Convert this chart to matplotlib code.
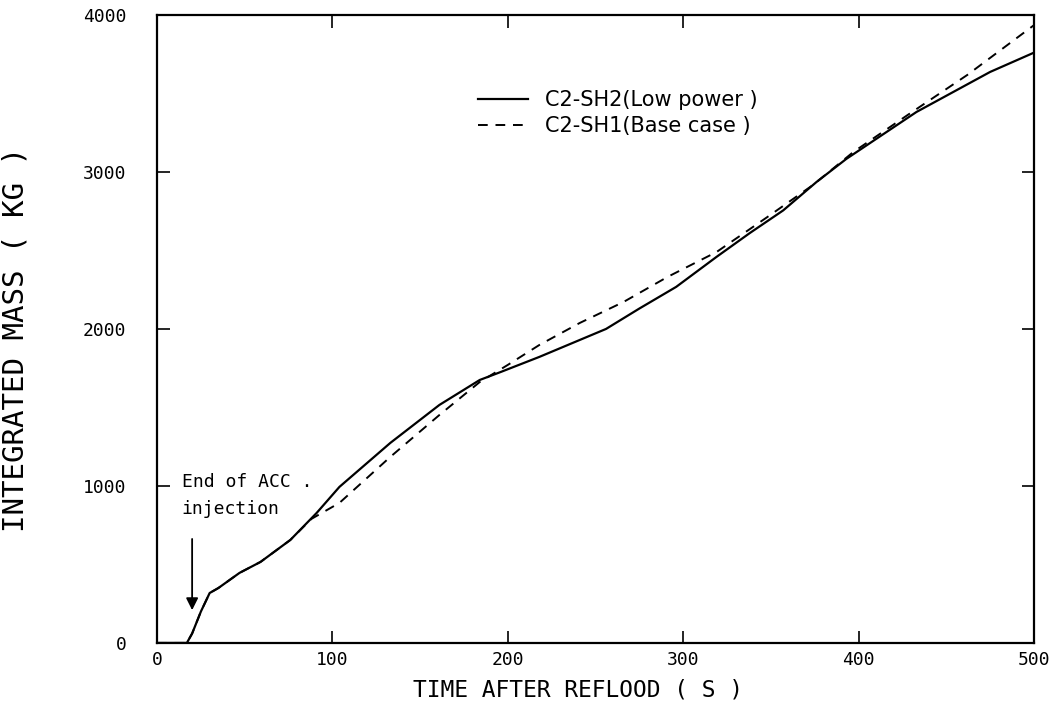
import matplotlib
matplotlib.use("Agg")
import matplotlib.pyplot as plt

# integrated mass vs time after reflood
t_low = [0, 17, 20, 25, 30, 35, 47, 59, 76, 91, 104, 133, 161, 184, 196, 218, 237,
         256, 275, 296, 319, 338, 357, 376, 393, 433, 475, 500]
m_low = [0, 0, 60, 200, 318, 350, 446, 516, 656, 828, 994, 1274, 1516, 1675, 1726,
         1822, 1911, 2000, 2130, 2268, 2459, 2611, 2755, 2936, 3083, 3382, 3637, 3760]

t_base = [0, 17, 20, 25, 30, 35, 47, 59, 76, 88, 104, 133, 161, 184, 200, 218, 241,
          266, 291, 319, 348, 374, 397, 428, 462, 500]
m_base = [0, 0, 60, 200, 318, 350, 446, 516, 656, 790, 892, 1185, 1452, 1662, 1771,
          1898, 2038, 2172, 2331, 2490, 2713, 2917, 3127, 3363, 3618, 3935]

mono = "DejaVu Sans Mono"

fig = plt.figure(figsize=(10.54, 7.12), dpi=100)
ax = fig.add_axes([0.149, 0.097, 0.832, 0.882])

ax.plot(t_low, m_low, color="black", linewidth=1.6, label="C2-SH2(Low power )")
ax.plot(t_base, m_base, color="black", linewidth=1.4, linestyle=(0, (5, 4)),
        label="C2-SH1(Base case )")

ax.set_xlim(0, 500)
ax.set_ylim(0, 4000)
ax.set_xticks([0, 100, 200, 300, 400, 500])
ax.set_yticks([0, 1000, 2000, 3000, 4000])

ax.tick_params(direction="in", length=9, width=1.2, top=True, right=True)
ax.tick_params(axis="x", pad=6, labelsize=13)
ax.tick_params(axis="y", pad=22, labelsize=13)
for lab in ax.get_xticklabels() + ax.get_yticklabels():
    lab.set_family(mono)
for s in ax.spines.values():
    s.set_linewidth(1.6)

ax.set_xlabel("TIME AFTER REFLOOD ( S )", family=mono, fontsize=16.5)
ax.set_ylabel("INTEGRATED MASS ( KG )", family=mono, fontsize=21)
ax.xaxis.set_label_coords(0.48, -0.056)
ax.yaxis.set_label_coords(-0.145, 0.483)

# end of accumulator injection
ax.text(14, 940, "End of ACC .\ninjection", family=mono, fontsize=13,
        va="center", ha="left", linespacing=1.6)
ax.annotate("", xy=(20, 191), xytext=(20, 680),
            arrowprops=dict(arrowstyle="-|>", color="black", lw=1.3,
                            mutation_scale=18))

ax.legend(loc="upper left", bbox_to_anchor=(0.345, 0.91), frameon=False,
          fontsize=15, handlelength=2.4, labelspacing=0.3)

fig.savefig("out.png", dpi=100)
